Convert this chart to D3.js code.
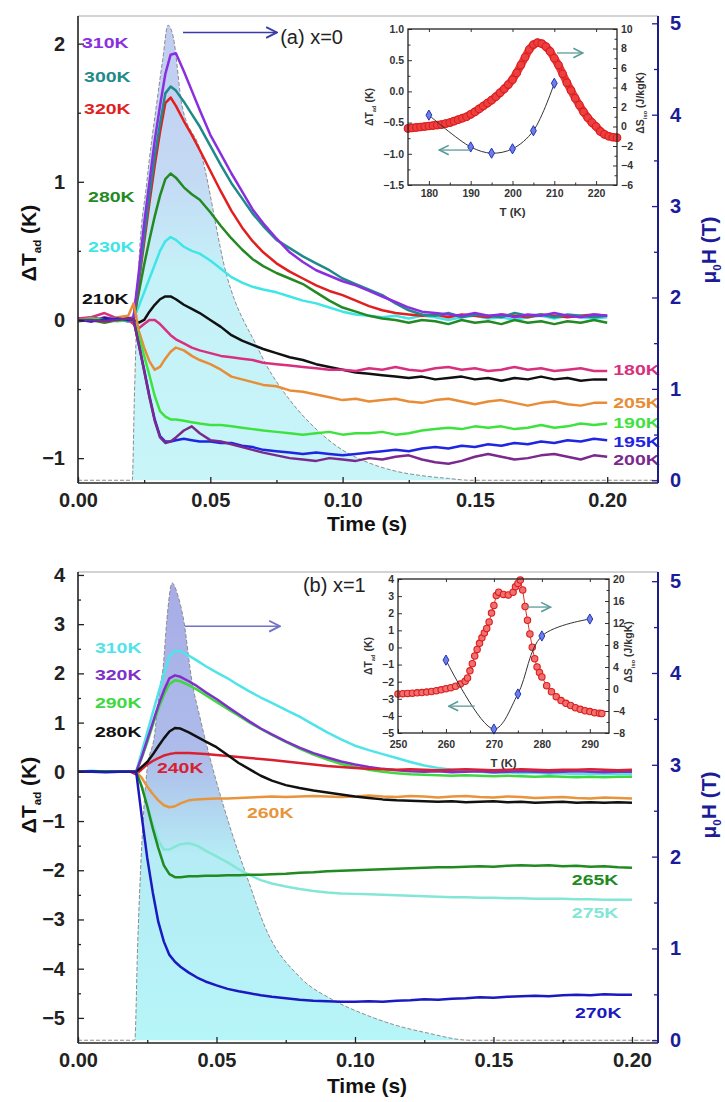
<!DOCTYPE html>
<html>
<head>
<meta charset="utf-8">
<script src="https://cdnjs.cloudflare.com/ajax/libs/d3/7.8.5/d3.min.js"></script>
<style>
  body { margin: 0; background: #fff; }
  svg text { font-family: "Liberation Sans", Arial, sans-serif; }
</style>
</head>
<body>
<svg id="fig" width="725" height="1102"></svg>
<script>
// time grid shared by every trace (s)
const timeGrid = [0, 0.005, 0.01, 0.015, 0.019, 0.021, 0.023, 0.025, 0.027, 0.029, 0.031, 0.033, 0.035, 0.037,
  0.040, 0.043, 0.046, 0.050, 0.054, 0.058, 0.062, 0.066, 0.070,
  0.075, 0.080, 0.085, 0.090, 0.095, 0.100, 0.105, 0.110, 0.115, 0.120, 0.125, 0.130, 0.135, 0.140, 0.145,
  0.150, 0.155, 0.160, 0.165, 0.170, 0.175, 0.180, 0.185, 0.190, 0.195, 0.200]

// ---- panel (a) x=0 : dT_ad (K)
const a310 = [0.01, -0.01, 0.02, 0.0, 0.01, 0.02, 0.35, 0.70, 1.00, 1.30, 1.55, 1.78, 1.92, 1.93,
  1.80, 1.66, 1.52, 1.34, 1.20, 1.06, 0.93, 0.80, 0.70,
  0.59, 0.49, 0.42, 0.36, 0.32, 0.28, 0.25, 0.21, 0.17, 0.13, 0.09, 0.06, 0.05, 0.04, 0.03, 0.05, 0.03, 0.04, 0.02, 0.04, 0.03, 0.05, 0.03, 0.02, 0.04, 0.03]
const a300 = [0.0, 0.02, 0.0, 0.01, -0.01, 0.02, 0.30, 0.60, 0.90, 1.18, 1.42, 1.64, 1.69, 1.66,
  1.58, 1.49, 1.40, 1.26, 1.12, 0.99, 0.88, 0.77, 0.68,
  0.58, 0.52, 0.46, 0.41, 0.36, 0.30, 0.26, 0.22, 0.18, 0.12, 0.07, 0.04, 0.03, 0.05, 0.02, 0.04, 0.03, 0.02, 0.05, 0.03, 0.04, 0.02, 0.04, 0.03, 0.02, 0.03]
const a320 = [0.01, 0.0, -0.01, 0.01, 0.0, 0.01, 0.28, 0.56, 0.85, 1.12, 1.36, 1.57, 1.61, 1.55,
  1.44, 1.34, 1.23, 1.08, 0.93, 0.79, 0.67, 0.57, 0.49,
  0.41, 0.35, 0.30, 0.25, 0.21, 0.18, 0.14, 0.10, 0.07, 0.05, 0.04, 0.03, 0.04, 0.02, 0.04, 0.03, 0.02, 0.04, 0.03, 0.02, 0.04, 0.03, 0.02, 0.03, 0.04, 0.03]
const a280 = [-0.01, 0.0, -0.02, 0.0, -0.01, 0.0, 0.20, 0.40, 0.58, 0.75, 0.90, 1.02, 1.06, 1.03,
  0.96, 0.91, 0.87, 0.78, 0.68, 0.59, 0.51, 0.44, 0.39,
  0.34, 0.30, 0.26, 0.20, 0.14, 0.09, 0.06, 0.03, 0.01, 0.0, -0.02, 0.0, -0.01, -0.03, 0.0, -0.02, -0.01, -0.03, 0.0, -0.02, -0.01, -0.03, -0.01, -0.02, 0.0, -0.02]
const a230 = [0.0, 0.01, 0.0, 0.02, 0.0, 0.01, 0.10, 0.20, 0.30, 0.40, 0.50, 0.57, 0.60, 0.58,
  0.53, 0.50, 0.48, 0.43, 0.37, 0.31, 0.27, 0.24, 0.22,
  0.20, 0.17, 0.14, 0.12, 0.09, 0.06, 0.04, 0.03, 0.02, 0.03, 0.01, 0.03, 0.02, 0.0, 0.02, 0.03, 0.01, 0.02, 0.0, 0.02, 0.03, 0.01, 0.03, 0.02, 0.01, 0.02]
const a210 = [0.0, -0.01, 0.01, 0.0, 0.01, 0.0, -0.02, 0.0, 0.06, 0.11, 0.15, 0.17, 0.17, 0.15,
  0.11, 0.08, 0.05, 0.0, -0.05, -0.11, -0.15, -0.18, -0.21,
  -0.24, -0.27, -0.29, -0.32, -0.34, -0.36, -0.38, -0.39, -0.40, -0.41, -0.42, -0.41, -0.43, -0.42, -0.41, -0.43, -0.42, -0.44, -0.42, -0.43, -0.41, -0.43, -0.42, -0.44, -0.43, -0.43]
const a180 = [0.01, 0.02, 0.05, 0.01, 0.0, -0.03, -0.06, -0.03, 0.0, 0.0, -0.03, -0.07, -0.11, -0.14,
  -0.17, -0.20, -0.22, -0.24, -0.26, -0.27, -0.28, -0.29, -0.31,
  -0.32, -0.33, -0.34, -0.35, -0.36, -0.36, -0.37, -0.35, -0.36, -0.34, -0.36, -0.37, -0.35, -0.34, -0.36, -0.35, -0.37, -0.36, -0.34, -0.36, -0.35, -0.37, -0.36, -0.35, -0.37, -0.37]
const a205 = [0.0, 0.01, -0.01, 0.02, 0.03, 0.12, -0.08, -0.20, -0.30, -0.36, -0.34, -0.28, -0.23, -0.20,
  -0.22, -0.26, -0.29, -0.32, -0.36, -0.41, -0.43, -0.45, -0.47,
  -0.48, -0.51, -0.52, -0.54, -0.56, -0.58, -0.57, -0.59, -0.58, -0.57, -0.59, -0.60, -0.58, -0.57, -0.59, -0.61, -0.59, -0.58, -0.60, -0.62, -0.60, -0.59, -0.61, -0.62, -0.60, -0.60]
const a190 = [0.0, 0.01, 0.0, -0.01, 0.0, 0.0, -0.12, -0.26, -0.40, -0.55, -0.66, -0.70, -0.72, -0.72,
  -0.73, -0.74, -0.75, -0.76, -0.76, -0.77, -0.78, -0.79, -0.80,
  -0.81, -0.82, -0.83, -0.82, -0.81, -0.83, -0.82, -0.82, -0.81, -0.83, -0.82, -0.80, -0.79, -0.78, -0.79, -0.77, -0.78, -0.77, -0.79, -0.78, -0.76, -0.78, -0.77, -0.75, -0.76, -0.75]
const a195 = [0.0, -0.01, 0.0, 0.01, 0.0, 0.0, -0.18, -0.36, -0.55, -0.72, -0.84, -0.88, -0.88, -0.87,
  -0.86, -0.87, -0.88, -0.88, -0.89, -0.89, -0.91, -0.92, -0.94,
  -0.95, -0.96, -0.97, -0.96, -0.97, -0.98, -0.97, -0.96, -0.95, -0.94, -0.95, -0.93, -0.92, -0.93, -0.91, -0.92, -0.90, -0.91, -0.89, -0.90, -0.88, -0.89, -0.87, -0.88, -0.86, -0.87]
const a200 = [0.0, 0.0, -0.01, 0.0, 0.01, 0.0, -0.18, -0.37, -0.56, -0.73, -0.85, -0.89, -0.88, -0.85,
  -0.80, -0.77, -0.82, -0.87, -0.88, -0.90, -0.92, -0.94, -0.96,
  -0.98, -1.00, -1.01, -1.02, -1.00, -1.01, -1.02, -1.00, -1.01, -0.99, -0.98, -1.01, -1.03, -1.04, -1.02, -0.99, -0.97, -0.99, -1.01, -1.00, -0.98, -0.97, -0.99, -1.01, -0.98, -0.99]

// field pulse (a): time (s), mu0H (T)
const pulseA_t = [0, 0.0205, 0.0213, 0.0228, 0.026, 0.0299, 0.032, 0.034, 0.036, 0.0393, 0.0461, 0.0563, 0.0677, 0.0714, 0.080, 0.090, 0.100, 0.110, 0.120, 0.130, 0.140, 0.148, 0.219]
const pulseA_B = [0, 0, 0.9, 2.25, 3.26, 4.16, 4.6, 4.98, 4.85, 4.1, 3.62, 2.23, 1.46, 1.25, 0.88, 0.56, 0.33, 0.19, 0.10, 0.05, 0.02, 0, 0]

// ---- panel (b) x=1
const b310 = [0.0, 0.02, 0.0, 0.01, 0.0, 0.0, 0.40, 0.80, 1.20, 1.60, 1.98, 2.35, 2.46, 2.45,
  2.36, 2.26, 2.15, 2.02, 1.90, 1.76, 1.63, 1.51, 1.40,
  1.26, 1.12, 0.96, 0.80, 0.66, 0.53, 0.44, 0.36, 0.28, 0.20, 0.13, 0.08, 0.04, 0.02, 0.0, -0.02, -0.01, -0.03, -0.02, -0.04, -0.03, -0.05, -0.04, -0.05, -0.04, -0.05]
const b320 = [0.0, 0.0, 0.01, 0.0, 0.0, 0.0, 0.30, 0.65, 1.00, 1.35, 1.65, 1.90, 1.96, 1.93,
  1.84, 1.74, 1.62, 1.48, 1.32, 1.17, 1.02, 0.88, 0.76,
  0.62, 0.49, 0.38, 0.29, 0.21, 0.15, 0.10, 0.06, 0.03, 0.01, 0.0, 0.01, -0.01, 0.0, 0.01, -0.01, 0.0, 0.01, 0.0, -0.01, 0.0, 0.01, 0.0, -0.01, 0.0, 0.0]
const b290 = [0.0, 0.0, 0.0, 0.01, 0.0, 0.0, 0.28, 0.60, 0.95, 1.28, 1.56, 1.78, 1.86, 1.84,
  1.76, 1.67, 1.56, 1.42, 1.28, 1.14, 1.00, 0.87, 0.75,
  0.61, 0.47, 0.35, 0.25, 0.16, 0.10, 0.04, 0.0, -0.03, -0.05, -0.06, -0.07, -0.08, -0.07, -0.08, -0.09, -0.08, -0.09, -0.10, -0.09, -0.10, -0.11, -0.10, -0.11, -0.10, -0.10]
const b280 = [0.0, 0.01, 0.0, 0.0, 0.0, 0.0, 0.10, 0.20, 0.35, 0.52, 0.68, 0.82, 0.89, 0.88,
  0.80, 0.71, 0.62, 0.50, 0.34, 0.18, 0.05, -0.08, -0.18,
  -0.27, -0.33, -0.38, -0.42, -0.46, -0.50, -0.53, -0.56, -0.58, -0.59, -0.60, -0.61, -0.60, -0.62, -0.61, -0.60, -0.62, -0.61, -0.63, -0.62, -0.61, -0.63, -0.62, -0.63, -0.62, -0.63]
const b240 = [0.0, 0.0, 0.01, 0.0, 0.0, -0.05, 0.05, 0.15, 0.22, 0.28, 0.33, 0.36, 0.38, 0.38,
  0.38, 0.37, 0.36, 0.34, 0.32, 0.30, 0.28, 0.26, 0.24,
  0.21, 0.18, 0.15, 0.12, 0.10, 0.08, 0.06, 0.05, 0.04, 0.05, 0.04, 0.03, 0.04, 0.05, 0.04, 0.03, 0.04, 0.05, 0.04, 0.03, 0.04, 0.04, 0.05, 0.04, 0.03, 0.04]
const b260 = [0.0, 0.0, 0.0, 0.01, 0.0, 0.0, -0.12, -0.30, -0.45, -0.58, -0.68, -0.72, -0.70, -0.64,
  -0.58, -0.56, -0.55, -0.54, -0.54, -0.53, -0.52, -0.51, -0.50,
  -0.51, -0.50, -0.49, -0.50, -0.51, -0.50, -0.48, -0.50, -0.51, -0.49, -0.50, -0.52, -0.50, -0.49, -0.51, -0.52, -0.50, -0.51, -0.53, -0.52, -0.51, -0.53, -0.54, -0.52, -0.53, -0.54]
const b265 = [0.0, 0.0, 0.01, 0.0, 0.0, 0.0, -0.30, -0.70, -1.15, -1.55, -1.90, -2.08, -2.14, -2.14,
  -2.12, -2.12, -2.11, -2.11, -2.10, -2.10, -2.09, -2.09, -2.08,
  -2.07, -2.05, -2.04, -2.02, -2.01, -2.00, -1.99, -1.98, -1.97, -1.96, -1.95, -1.94, -1.94, -1.93, -1.92, -1.93, -1.91, -1.90, -1.91, -1.90, -1.92, -1.91, -1.93, -1.92, -1.94, -1.95]
const b275 = [0.0, 0.0, 0.0, 0.0, 0.0, 0.0, -0.28, -0.65, -1.05, -1.40, -1.58, -1.58, -1.52, -1.47,
  -1.45, -1.50, -1.60, -1.72, -1.84, -1.98, -2.10, -2.20, -2.27,
  -2.33, -2.38, -2.42, -2.45, -2.47, -2.48, -2.49, -2.50, -2.51, -2.52, -2.53, -2.54, -2.55, -2.55, -2.56, -2.56, -2.57, -2.57, -2.58, -2.58, -2.58, -2.59, -2.59, -2.60, -2.60, -2.60]
const b270 = [0.0, 0.0, -0.01, 0.0, 0.0, 0.0, -0.90, -1.75, -2.45, -3.05, -3.45, -3.72, -3.86, -3.96,
  -4.08, -4.18, -4.26, -4.34, -4.41, -4.46, -4.50, -4.54, -4.57,
  -4.60, -4.63, -4.65, -4.66, -4.67, -4.67, -4.66, -4.67, -4.65, -4.64, -4.62, -4.63, -4.61, -4.60, -4.58, -4.59, -4.57, -4.56, -4.55, -4.56, -4.54, -4.53, -4.54, -4.52, -4.53, -4.53]

const pulseB_t = [0, 0.0205, 0.0215, 0.0235, 0.0249, 0.0275, 0.0296, 0.0307, 0.032, 0.034, 0.036, 0.038, 0.0412, 0.044, 0.0549, 0.061, 0.068, 0.080, 0.092, 0.102, 0.114, 0.126, 0.1415, 0.21]
const pulseB_B = [0, 0, 1.0, 2.39, 2.94, 3.3, 3.85, 4.05, 4.55, 4.98, 4.85, 4.6, 3.9, 3.52, 2.32, 1.78, 1.2, 0.69, 0.44, 0.30, 0.17, 0.08, 0, 0]

// ---- insets
const insetA_T = [175, 176, 177, 178, 179, 180, 181, 182, 183, 184, 185, 186, 187, 188, 189, 190, 191, 192, 193, 194,
  195, 196, 197, 198, 199, 200, 201, 202, 203, 204, 205, 206, 207, 208, 209, 210, 211, 212, 213, 214,
  215, 216, 217, 218, 219, 220, 221, 222, 223, 224, 225]
const insetA_dS = [-0.2, -0.15, -0.1, -0.05, 0, 0.05, 0.1, 0.15, 0.2, 0.3, 0.4, 0.55, 0.7, 0.85, 1.0, 1.25, 1.5, 1.8, 2.1, 2.4,
  2.7, 3.05, 3.45, 3.85, 4.3, 4.8, 5.5, 6.3, 7.1, 7.9, 8.4, 8.6, 8.5, 8.2, 7.7, 7.0, 6.3, 5.4, 4.5, 3.7,
  2.9, 2.2, 1.5, 0.9, 0.4, 0.0, -0.5, -0.8, -1.0, -1.1, -1.15]
const insetA_dT_T = [180, 190, 195, 200, 205, 210]
const insetA_dT = [-0.38, -0.89, -0.99, -0.92, -0.63, 0.13]

const insetB_T = [250, 251, 252, 253, 254, 255, 256, 257, 258, 259, 260, 261, 262, 263, 264, 264.5, 265, 265.5, 266, 266.5,
  267, 267.5, 268, 268.5, 269, 269.5, 270, 270.5, 271, 272, 273, 274, 274.5, 275, 275.5, 276, 276.5, 277, 277.5, 278,
  278.5, 279, 279.5, 280, 281, 282, 283, 284, 285, 286, 287, 288, 289, 290, 291, 292, 292.5]
const insetB_dS = [-0.9, -0.85, -0.8, -0.75, -0.7, -0.65, -0.55, -0.45, -0.3, -0.15, 0.05, 0.25, 0.5, 0.9, 1.4, 2.0, 3.3, 4.6, 6.0, 7.2,
  8.3, 9.3, 10.2, 11.0, 12.2, 13.8, 15.2, 17.0, 17.6, 17.2, 17.1, 17.6, 18.6, 19.2, 19.8, 18.0, 15.0, 12.5, 10.0, 7.6,
  5.5, 4.0, 3.0, 2.2, 0.6, -0.5, -1.4, -2.1, -2.6, -3.0, -3.4, -3.7, -3.95, -4.1, -4.3, -4.4, -4.45]
const insetB_dT_T = [260, 270, 275, 280, 290]
const insetB_dT = [-0.74, -4.77, -2.72, 0.67, 1.66]

// tick values
const xTicksMain = [0, 0.05, 0.10, 0.15, 0.20]
const xMinorMain = [0.025, 0.075, 0.125, 0.175]
const fieldTicks = [0, 1, 2, 3, 4, 5]
const fieldMinor = [0.5, 1.5, 2.5, 3.5, 4.5]

const svg = d3.select('#fig')
const defs = svg.append('defs')

function arrowMarker(id, color) {
  defs.append('marker').attr('id', id)
    .attr('viewBox', '0 0 10 10').attr('refX', 9).attr('refY', 5)
    .attr('markerWidth', 9).attr('markerHeight', 9).attr('orient', 'auto')
    .append('path').attr('d', 'M1,1 L9,5 L1,9')
    .attr('fill', 'none').attr('stroke', color).attr('stroke-width', 1.4)
}
arrowMarker('arrA', '#3a3aa8')
arrowMarker('arrB', '#6f72c6')
arrowMarker('arrInset', '#5c9c98')

function styleAxis(sel, color, size, weight) {
  sel.select('.domain').remove()
  sel.selectAll('line').attr('stroke', color).attr('stroke-width', 1.3)
  sel.selectAll('text').attr('fill', color).attr('font-size', size).attr('font-weight', weight)
    .attr('font-family', '"Liberation Sans", Arial, sans-serif')
}

// rotated axis title with subscript: main, sub, rest
function rotTitle(g, x, y, main, sub, rest, color, size) {
  const t = g.append('text').attr('transform', `translate(${x},${y}) rotate(-90)`)
    .attr('text-anchor', 'middle').attr('font-size', size).attr('font-weight', 'bold').attr('fill', color)
  t.append('tspan').text(main)
  t.append('tspan').text(sub).attr('font-size', size * 0.55).attr('dy', size * 0.25)
  t.append('tspan').text(rest).attr('dy', -size * 0.25)
}

function drawPanel(p) {
  const {left, right, top, bottom} = p.box
  const x = d3.scaleLinear().domain([0, p.xMax]).range([left, right])
  const y = d3.scaleLinear().domain(p.yLeft).range([bottom, top])
  const yF = d3.scaleLinear().domain(p.yRight).range([bottom, top])
  const g = svg.append('g')

  defs.append('clipPath').attr('id', 'clip' + p.id)
    .append('rect').attr('x', left).attr('y', top).attr('width', right - left).attr('height', bottom - top)
  const grad = defs.append('linearGradient').attr('id', 'grad' + p.id)
    .attr('gradientUnits', 'userSpaceOnUse').attr('x1', 0).attr('x2', 0).attr('y1', top).attr('y2', bottom)
  p.fillStops.forEach(s => grad.append('stop').attr('offset', s[0]).attr('stop-color', s[1]))

  const plot = g.append('g').attr('clip-path', `url(#clip${p.id})`)
  const pulse = p.pulseT.map((t, i) => ({t, b: p.pulseB[i]}))
  plot.append('path').datum(pulse)
    .attr('fill', `url(#grad${p.id})`)
    .attr('d', d3.area().x(d => x(d.t)).y0(yF(0)).y1(d => yF(d.b)).curve(d3.curveMonotoneX))
  plot.append('path').datum(pulse)
    .attr('fill', 'none').attr('stroke', '#8c8c8c').attr('stroke-width', 1).attr('stroke-dasharray', '4,2')
    .attr('d', d3.line().x(d => x(d.t)).y(d => yF(d.b)).curve(d3.curveMonotoneX))

  const line = d3.line().x(d => x(d.t)).y(d => y(d.v))
  p.series.forEach(s => {
    plot.append('path').datum(timeGrid.map((t, i) => ({t, v: s.values[i]})))
      .attr('fill', 'none').attr('stroke', s.color).attr('stroke-width', 2.5)
      .attr('stroke-linejoin', 'round').attr('d', line)
  })

  // temperature labels
  p.labels.forEach(l => {
    g.append('text').attr('transform', `translate(${x(l.t)},${y(l.v)}) scale(1.3,1)`)
      .attr('font-size', 15).attr('font-weight', 'bold').attr('fill', l.color).text(l.text)
  })

  // axes
  g.append('line').attr('x1', left).attr('x2', right).attr('y1', top).attr('y2', top)
    .attr('stroke', '#a8a8a8').attr('stroke-width', 1.2)
  g.append('line').attr('x1', left).attr('x2', left).attr('y1', top).attr('y2', bottom)
    .attr('stroke', '#222').attr('stroke-width', 1.6)
  g.append('line').attr('x1', left).attr('x2', right).attr('y1', bottom).attr('y2', bottom)
    .attr('stroke', '#222').attr('stroke-width', 1.6)
  g.append('line').attr('x1', right).attr('x2', right).attr('y1', top).attr('y2', bottom)
    .attr('stroke', '#1c1c8c').attr('stroke-width', 2)

  g.append('g').attr('transform', `translate(0,${bottom})`)
    .call(d3.axisBottom(x).tickValues(xTicksMain).tickSize(-6).tickPadding(10).tickFormat(d3.format('.2f')))
    .call(a => styleAxis(a, '#222', 20, 'bold'))
  g.append('g').attr('transform', `translate(0,${bottom})`)
    .call(d3.axisBottom(x).tickValues(xMinorMain).tickSize(-3).tickFormat(''))
    .call(a => styleAxis(a, '#222', 20, 'bold'))
  g.append('g').attr('transform', `translate(${left},0)`)
    .call(d3.axisLeft(y).tickValues(p.leftTicks).tickSize(-6).tickPadding(13).tickFormat(d3.format('d')))
    .call(a => styleAxis(a, '#222', 20, 'bold'))
  g.append('g').attr('transform', `translate(${left},0)`)
    .call(d3.axisLeft(y).tickValues(p.leftMinor).tickSize(-3).tickFormat(''))
    .call(a => styleAxis(a, '#222', 20, 'bold'))
  g.append('g').attr('transform', `translate(${right},0)`)
    .call(d3.axisRight(yF).tickValues(fieldTicks).tickSize(-6).tickPadding(12).tickFormat(d3.format('d')))
    .call(a => styleAxis(a, '#1c1c99', 20, 'bold'))
  g.append('g').attr('transform', `translate(${right},0)`)
    .call(d3.axisRight(yF).tickValues(fieldMinor).tickSize(-4).tickFormat(''))
    .call(a => styleAxis(a, '#1c1c99', 20, 'bold'))

  g.append('text').attr('x', (left + right) / 2 - 1).attr('y', bottom + p.xTitleDy)
    .attr('text-anchor', 'middle').attr('font-size', 21).attr('font-weight', 'bold').attr('fill', '#111')
    .text('Time (s)')
  rotTitle(g, 36, p.leftTitleY, 'ΔT', 'ad', ' (K)', '#111', 21)
  rotTitle(g, 716, p.rightTitleY, 'μ', '0', 'H (T)', '#1c1c99', 21)

  // arrow to field axis and panel tag
  g.append('line').attr('x1', x(p.arrow[0])).attr('x2', x(p.arrow[1]))
    .attr('y1', yF(p.arrow[2])).attr('y2', yF(p.arrow[2]))
    .attr('stroke', p.arrowColor).attr('stroke-width', 1.5).attr('marker-end', `url(#${p.arrowMarker})`)
  g.append('text').attr('x', x(p.tag[0])).attr('y', yF(p.tag[1]))
    .attr('font-size', 20).attr('fill', '#222').text(p.tag[2])
}

function drawInset(s) {
  const {left, right, top, bottom} = s.box
  const x = d3.scaleLinear().domain(s.xDomain).range([left, right])
  const yL = d3.scaleLinear().domain(s.yLeft).range([bottom, top])
  const yR = d3.scaleLinear().domain(s.yRight).range([bottom, top])
  const g = svg.append('g')
  g.append('rect').attr('x', left).attr('y', top).attr('width', right - left).attr('height', bottom - top)
    .attr('fill', '#fff')

  const ax = (axis, tr) => g.append('g').attr('transform', tr).call(axis)
    .call(a => { styleAxis(a, '#333', 10.5, 'bold'); a.selectAll('line').attr('stroke-width', 1) })
  ax(d3.axisBottom(x).tickValues(s.xTicks).tickSize(-4).tickPadding(s.xPad).tickFormat(d3.format('d')), `translate(0,${bottom})`)
  ax(d3.axisBottom(x).tickValues(s.xMinor).tickSize(-2.5).tickFormat(''), `translate(0,${bottom})`)
  ax(d3.axisTop(x).tickValues(s.xTicks).tickSize(-3).tickFormat(''), `translate(0,${top})`)
  ax(d3.axisLeft(yL).tickValues(s.leftTicks).tickSize(-4).tickPadding(4).tickFormat(s.leftFmt), `translate(${left},0)`)
  ax(d3.axisLeft(yL).tickValues(s.leftMinor).tickSize(-2.5).tickFormat(''), `translate(${left},0)`)
  ax(d3.axisRight(yR).tickValues(s.rightTicks).tickSize(-4).tickPadding(4).tickFormat(d3.format('d')), `translate(${right},0)`)
  ax(d3.axisRight(yR).tickValues(s.rightMinor).tickSize(-2.5).tickFormat(''), `translate(${right},0)`)

  const red = s.T.map((t, i) => ({t, v: s.dS[i]}))
  const redLine = d3.line().x(d => x(d.t)).y(d => yR(d.v))
  if (s.band) {
    // dense overlapping markers form a solid band in the original
    g.append('path').datum(red).attr('fill', 'none').attr('stroke', '#e63a3a')
      .attr('stroke-width', 8).attr('stroke-linecap', 'round').attr('stroke-linejoin', 'round')
      .attr('d', redLine)
  } else {
    g.append('path').datum(red).attr('fill', 'none').attr('stroke', '#e03030').attr('stroke-width', 1)
      .attr('d', redLine)
  }
  g.selectAll(null).data(red).join('circle')
    .attr('cx', d => x(d.t)).attr('cy', d => yR(d.v)).attr('r', s.dotR)
    .attr('fill', s.dotFill).attr('stroke', '#dd1c1c').attr('stroke-width', 1.1)

  const blue = s.dT_T.map((t, i) => ({t, v: s.dT[i]}))
  g.append('path').datum(blue).attr('fill', 'none').attr('stroke', '#333').attr('stroke-width', 1)
    .attr('d', d3.line().x(d => x(d.t)).y(d => yL(d.v)).curve(d3.curveCatmullRom.alpha(0.5)))
  g.selectAll(null).data(blue).join('path')
    .attr('transform', d => `translate(${x(d.t)},${yL(d.v)})`)
    .attr('d', d3.symbol(d3.symbolDiamond, 30))
    .attr('fill', '#6d7fe6').attr('stroke', '#2233bb').attr('stroke-width', 1)

  // arrows pointing to the relevant axis
  g.append('line').attr('x1', x(s.arrR[0])).attr('x2', x(s.arrR[1])).attr('y1', yR(s.arrR[2])).attr('y2', yR(s.arrR[2]))
    .attr('stroke', '#5c9c98').attr('stroke-width', 1.3).attr('marker-end', 'url(#arrInset)')
  g.append('line').attr('x1', x(s.arrL[0])).attr('x2', x(s.arrL[1])).attr('y1', yL(s.arrL[2])).attr('y2', yL(s.arrL[2]))
    .attr('stroke', '#5c9c98').attr('stroke-width', 1.3).attr('marker-end', 'url(#arrInset)')

  g.append('rect').attr('x', left).attr('y', top).attr('width', right - left).attr('height', bottom - top)
    .attr('fill', 'none').attr('stroke', '#222').attr('stroke-width', 1.3)

  g.append('text').attr('x', (left + right) / 2).attr('y', bottom + 26 + s.xPad)
    .attr('text-anchor', 'middle').attr('font-size', 11.5).attr('font-weight', 'bold').attr('fill', '#333').text('T (K)')
  rotTitle(g, s.leftTitleX, (top + bottom) / 2, 'ΔT', 'ad', ' (K)', '#333', 10.5)
  rotTitle(g, s.rightTitleX, (top + bottom) / 2 - 4, 'ΔS', 'iso', ' (J/kgK)', '#333', 10.5)
}

drawPanel({
  id: 'A',
  box: {left: 78, right: 658, top: 16, bottom: 483},
  xMax: 0.2192, yLeft: [-1.18, 2.2], yRight: [-0.03, 5.08],
  leftTicks: [-1, 0, 1, 2], leftMinor: [-0.5, 0.5, 1.5],
  pulseT: pulseA_t, pulseB: pulseA_B,
  fillStops: [[0, '#c0cbf1'], [0.35, '#c4daf4'], [0.55, '#c5f1f8'], [1, '#c7f5f8']],
  series: [
    {values: a230, color: '#3ee6e6'}, {values: a280, color: '#238a23'},
    {values: a320, color: '#e21f1f'}, {values: a300, color: '#1f8a8a'}, {values: a310, color: '#8a2fe0'},
    {values: a210, color: '#111111'}, {values: a180, color: '#d8307e'}, {values: a205, color: '#e88c35'},
    {values: a190, color: '#3ee23e'}, {values: a195, color: '#1f25e0'}, {values: a200, color: '#7a2a8e'}
  ],
  labels: [
    {text: '310K', t: 0.0015, v: 1.97, color: '#8a2fe0'}, {text: '300K', t: 0.0023, v: 1.72, color: '#1f8a8a'},
    {text: '320K', t: 0.0023, v: 1.49, color: '#e21f1f'}, {text: '280K', t: 0.0038, v: 0.855, color: '#238a23'},
    {text: '230K', t: 0.0038, v: 0.49, color: '#3ee6e6'}, {text: '210K', t: 0.0015, v: 0.116, color: '#111111'},
    {text: '180K', t: 0.2023, v: -0.40, color: '#d8307e'}, {text: '205K', t: 0.2023, v: -0.64, color: '#e88c35'},
    {text: '190K', t: 0.2023, v: -0.78, color: '#3ee23e'}, {text: '195K', t: 0.2023, v: -0.92, color: '#1f25e0'},
    {text: '200K', t: 0.2023, v: -1.05, color: '#7a2a8e'}
  ],
  arrow: [0.0397, 0.0752, 4.9], arrowColor: '#3a3aa8', arrowMarker: 'arrA',
  tag: [0.0764, 4.77, '(a)  x=0'],
  xTitleDy: 48, leftTitleY: 243, rightTitleY: 250
})

drawPanel({
  id: 'B',
  box: {left: 78, right: 658, top: 572, bottom: 1043},
  xMax: 0.2094, yLeft: [-5.51, 4.06], yRight: [-0.03, 5.1],
  leftTicks: [-5, -4, -3, -2, -1, 0, 1, 2, 3, 4], leftMinor: [-4.5, -3.5, -2.5, -1.5, -0.5, 0.5, 1.5, 2.5, 3.5],
  pulseT: pulseB_t, pulseB: pulseB_B,
  fillStops: [[0, '#a7abe7'], [0.4, '#aebdea'], [0.6, '#b5ecf5'], [1, '#b6f5f8']],
  series: [
    {values: b275, color: '#84e6d6'}, {values: b310, color: '#4ee4ea'}, {values: b290, color: '#3fd83f'},
    {values: b320, color: '#7e30c8'}, {values: b240, color: '#d82030'}, {values: b260, color: '#e8943a'},
    {values: b280, color: '#111111'}, {values: b265, color: '#218a21'}, {values: b270, color: '#1a1ac0'}
  ],
  labels: [
    {text: '310K', t: 0.0061, v: 2.42, color: '#4ee4ea'}, {text: '320K', t: 0.0061, v: 1.87, color: '#7e30c8'},
    {text: '290K', t: 0.0061, v: 1.30, color: '#3fd83f'}, {text: '280K', t: 0.0061, v: 0.71, color: '#111111'},
    {text: '240K', t: 0.0285, v: -0.02, color: '#d82030'}, {text: '260K', t: 0.061, v: -0.93, color: '#e8943a'},
    {text: '265K', t: 0.1783, v: -2.30, color: '#218a21'}, {text: '275K', t: 0.1783, v: -2.97, color: '#84e6d6'},
    {text: '270K', t: 0.1794, v: -5.0, color: '#1a1ac0'}
  ],
  arrow: [0.0386, 0.0729, 4.51], arrowColor: '#6f72c6', arrowMarker: 'arrB',
  tag: [0.0812, 4.88, '(b) x=1'],
  xTitleDy: 50, leftTitleY: 795, rightTitleY: 805
})

drawInset({
  box: {left: 408, right: 617, top: 29, bottom: 185},
  xDomain: [175, 225], yLeft: [-1.5, 1.0], yRight: [-6, 10],
  xTicks: [180, 190, 200, 210, 220], xMinor: [185, 195, 205, 215], xPad: 5,
  leftTicks: [-1.5, -1.0, -0.5, 0.0, 0.5, 1.0], leftMinor: [-1.25, -0.75, -0.25, 0.25, 0.75], leftFmt: d3.format('.1f'),
  rightTicks: [-6, -4, -2, 0, 2, 4, 6, 8, 10], rightMinor: [-5, -3, -1, 1, 3, 5, 7, 9],
  T: insetA_T, dS: insetA_dS, dT_T: insetA_dT_T, dT: insetA_dT,
  band: true, dotR: 3.8, dotFill: '#ec4040',
  arrR: [210.6, 216.8, 7.54], arrL: [189.8, 182.5, -0.94],
  leftTitleX: 373, rightTitleX: 644
})

drawInset({
  box: {left: 398, right: 609, top: 579, bottom: 733},
  xDomain: [250, 294], yLeft: [-5, 4], yRight: [-8, 20],
  xTicks: [250, 260, 270, 280, 290], xMinor: [255, 265, 275, 285], xPad: 8,
  leftTicks: [-5, -4, -3, -2, -1, 0, 1, 2, 3, 4], leftMinor: [], leftFmt: d3.format('d'),
  rightTicks: [-8, -4, 0, 4, 8, 12, 16, 20], rightMinor: [-6, -2, 2, 6, 10, 14, 18],
  T: insetB_T, dS: insetB_dS, dT_T: insetB_dT_T, dT: insetB_dT,
  band: false, dotR: 3.2, dotFill: '#f07070',
  arrR: [276.9, 281.8, 14.9], arrL: [266.0, 260.6, -3.43],
  leftTitleX: 372, rightTitleX: 632
})
</script>
</body>
</html>
